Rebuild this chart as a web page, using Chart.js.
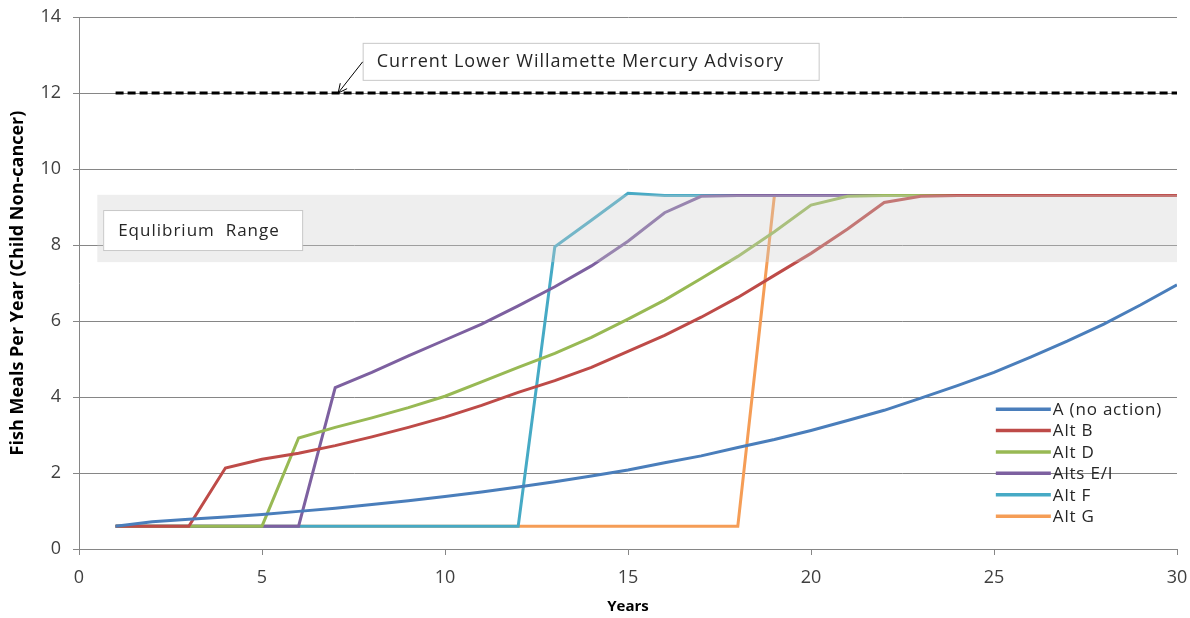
<!DOCTYPE html>
<html>
<head>
<meta charset="utf-8">
<script src="https://cdn.jsdelivr.net/npm/chart.js@4"></script>
<style>
html,body{margin:0;padding:0;background:#fff;}
#wrap{width:1190px;height:618px;position:relative;}
</style>
</head>
<body>
<div id="wrap"><canvas id="c" width="1190" height="618"></canvas></div>
<script>
const years = [1,2,3,4,5,6,7,8,9,10,11,12,13,14,15,16,17,18,19,20,21,22,23,24,25,26,27,28,29,30];
const altA  = [0.6,0.72,0.78,0.84,0.91,0.99,1.07,1.17,1.27,1.38,1.5,1.63,1.77,1.92,2.08,2.27,2.45,2.67,2.88,3.12,3.38,3.65,3.97,4.3,4.65,5.05,5.47,5.92,6.42,6.95];
const altB  = [0.6,0.6,0.6,2.13,2.36,2.52,2.72,2.95,3.2,3.47,3.78,4.12,4.43,4.78,5.2,5.62,6.1,6.62,7.2,7.78,8.42,9.12,9.28,9.3,9.3,9.3,9.3,9.3,9.3,9.3];
const altD  = [0.6,0.6,0.6,0.6,0.6,2.92,3.2,3.45,3.72,4.02,4.4,4.78,5.15,5.57,6.05,6.55,7.12,7.7,8.35,9.05,9.28,9.3,9.3,9.3,9.3,9.3,9.3,9.3,9.3,9.3];
const altEI = [0.6,0.6,0.6,0.6,0.6,0.6,4.25,4.65,5.08,5.5,5.92,6.4,6.9,7.45,8.1,8.85,9.28,9.3,9.3,9.3,9.3,9.3,9.3,9.3,9.3,9.3,9.3,9.3,9.3,9.3];
const altF  = [0.6,0.6,0.6,0.6,0.6,0.6,0.6,0.6,0.6,0.6,0.6,0.6,7.95,8.65,9.36,9.3,9.3,9.3,9.3,9.3,9.3,9.3,9.3,9.3,9.3,9.3,9.3,9.3,9.3,9.3];
const altG  = [0.6,0.6,0.6,0.6,0.6,0.6,0.6,0.6,0.6,0.6,0.6,0.6,0.6,0.6,0.6,0.6,0.6,0.6,9.3,9.3,9.3,9.3,9.3,9.3,9.3,9.3,9.3,9.3,9.3,9.3];
const seriesNames = ["A (no action)","Alt B","Alt D","Alts E/I","Alt F","Alt G"];
const seriesColors = ["#4a7ebb","#be4b48","#98b954","#7d60a0","#46aac5","#f59d56"];
const advisoryYears = [1, 30];
const advisoryValues = [12, 12];
const bandRange = [7.55, 9.32];
const bandYears = [0.5, 30];
const xTicks = [0,5,10,15,20,25,30];
const yTicks = [0,2,4,6,8,10,12,14];
const advisoryLabel = "Current Lower Willamette Mercury Advisory";
const bandLabel = "Equlibrium  Range";

const FONT = "'Open Sans','Noto Sans',sans-serif";
const allSeries = [altA, altB, altD, altEI, altF, altG];
const pts = (xs, ys) => xs.map((x,i)=>({x:x, y:ys[i]}));

const datasets = allSeries.map((vals,i)=>({
  label: seriesNames[i],
  data: pts(years, vals),
  borderColor: seriesColors[i],
  backgroundColor: seriesColors[i],
  borderWidth: 3,
  pointRadius: 0,
  tension: 0,
  fill: false
}));
datasets.push({
  label: "_advisory",
  data: pts(advisoryYears, advisoryValues),
  borderColor: "#000",
  borderWidth: 3,
  borderDash: [8,4],
  pointRadius: 0,
  fill: false
});

const overlay = {
  id: 'overlay',
  afterDatasetsDraw(chart) {
    const ctx = chart.ctx, xs = chart.scales.x, ys = chart.scales.y;
    ctx.save();
    ctx.fillStyle = 'rgba(205,205,205,0.34)';
    const x0 = xs.getPixelForValue(bandYears[0]), x1 = xs.getPixelForValue(bandYears[1]);
    const yT = ys.getPixelForValue(bandRange[1]), yB = ys.getPixelForValue(bandRange[0]);
    ctx.fillRect(x0, yT, x1 - x0, yB - yT);
    ctx.restore();
  },
  afterDraw(chart) {
    const ctx = chart.ctx, xs = chart.scales.x, ys = chart.scales.y;
    ctx.save();
    // advisory box
    const bx = xs.getPixelForValue(7.75), by = ys.getPixelForValue(13.32);
    const bw = 456, bh = 37;
    ctx.fillStyle = '#fff'; ctx.fillRect(bx, by, bw, bh);
    ctx.strokeStyle = '#c8c8c8'; ctx.lineWidth = 1;
    ctx.strokeRect(bx + 0.5, by + 0.5, bw, bh);
    ctx.fillStyle = '#262626';
    ctx.font = "18px " + FONT;
    ctx.letterSpacing = '1px';
    ctx.textBaseline = 'middle'; ctx.textAlign = 'left';
    ctx.fillText(advisoryLabel, bx + 14, by + bh/2 + 1);
    // arrow
    const tx = xs.getPixelForValue(7.08), ty = ys.getPixelForValue(12.0);
    const sx = bx, sy = by + 19;
    ctx.strokeStyle = '#000'; ctx.lineWidth = 1;
    ctx.beginPath(); ctx.moveTo(sx, sy); ctx.lineTo(tx, ty); ctx.stroke();
    const ang = Math.atan2(ty - sy, tx - sx);
    ctx.beginPath();
    ctx.moveTo(tx - 10*Math.cos(ang - 0.45), ty - 10*Math.sin(ang - 0.45));
    ctx.lineTo(tx, ty);
    ctx.lineTo(tx - 10*Math.cos(ang + 0.45), ty - 10*Math.sin(ang + 0.45));
    ctx.stroke();
    // equilibrium box
    const ex = xs.getPixelForValue(0.66), ey = ys.getPixelForValue(8.92);
    const ew = 199, eh = 40;
    ctx.fillStyle = '#fff'; ctx.fillRect(ex, ey, ew, eh);
    ctx.strokeStyle = '#c8c8c8'; ctx.strokeRect(ex + 0.5, ey + 0.5, ew, eh);
    ctx.fillStyle = '#262626';
    ctx.font = "17px " + FONT;
    ctx.letterSpacing = '1px';
    ctx.fillText(bandLabel, ex + 15, ey + eh/2 + 1);
    // legend
    const lx = xs.getPixelForValue(25.05), ly0 = ys.getPixelForValue(3.68);
    const step = 21.4;
    ctx.font = "17px " + FONT;
    ctx.letterSpacing = '0.8px';
    seriesNames.forEach((n,i)=>{
      const yy = ly0 + i*step;
      ctx.strokeStyle = seriesColors[i]; ctx.lineWidth = 3.5;
      ctx.beginPath(); ctx.moveTo(lx, yy); ctx.lineTo(lx + 55, yy); ctx.stroke();
      ctx.fillStyle = '#262626';
      ctx.fillText(n, lx + 57, yy + 1);
    });
    ctx.restore();
  }
};

new Chart(document.getElementById('c'), {
  type: 'line',
  data: { datasets },
  options: {
    responsive: false,
    animation: false,
    layout: { padding: { top: 17, right: 13, left: 0, bottom: 0 } },
    plugins: { legend: { display: false }, tooltip: { enabled: false } },
    scales: {
      x: {
        type: 'linear', min: 0, max: 30,
        afterBuildTicks: (ax) => { ax.ticks = xTicks.map(v=>({value:v})); },
        afterFit: (ax) => { ax.height = 69; ax.paddingLeft = 0; ax.paddingRight = 0; },
        grid: { display: true, drawOnChartArea: false, drawTicks: true, tickLength: 6, color: '#868686' },
        border: { color: '#868686', width: 1 },
        ticks: { color: '#404040', font: { family: FONT, size: 18 }, padding: 12, maxRotation: 0 },
        title: { display: true, text: 'Years', color: '#000', font: { family: FONT, size: 15, weight: 'bold' }, padding: { top: 0, bottom: 2 } }
      },
      y: {
        min: 0, max: 14,
        afterBuildTicks: (ax) => { ax.ticks = yTicks.map(v=>({value:v})); },
        afterFit: (ax) => { ax.width = 79; ax.paddingTop = 0; ax.paddingBottom = 0; },
        grid: { color: '#868686', tickLength: 6, lineWidth: 1 },
        border: { color: '#868686', width: 1 },
        ticks: { color: '#404040', font: { family: FONT, size: 18 }, padding: 12 },
        title: { display: true, text: 'Fish Meals Per Year (Child Non-cancer)', color: '#000', font: { family: FONT, size: 18, weight: 'bold' }, padding: { top: 7, bottom: 0 } }
      }
    }
  },
  plugins: [overlay]
});
</script>
</body>
</html>
